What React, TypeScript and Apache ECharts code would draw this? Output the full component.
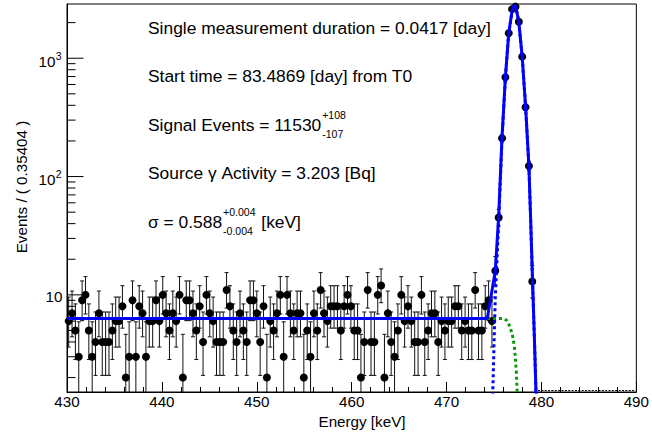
import React, { useEffect, useRef } from "react";
import * as echarts from "echarts";

// ---- axis ranges ----
const X_MIN = 430;
const X_MAX = 490;
const Y_MIN = 1.51;
const Y_MAX = 2874;
const BIN_WIDTH = 0.35404;
const N_BINS = 169;

// ---- data: counts per bin (bin 0 starts at 430 keV) ----
const bkgCounts = [
  6, 7, 5, 3, 9, 10, 5, 3, 4, 7,
  4, 4, 4, 5, 6, 6, 8, 2, 3, 9,
  3, 8, 7, 3, 6, 6, 9, 6, 10, 7,
  5, 7, 6, 10, 2, 9, 9, 7, 5, 8,
  4, 10, 7, 6, 4, 4, 4, 11, 8, 5,
  4, 7, 5, 4, 9, 9, 7, 4, 8, 2,
  6, 5, 7, 10, 3, 10, 7, 5, 7, 7,
  2, 5, 3, 7, 5, 11, 7, 6, 8, 8,
  8, 5, 8, 10, 8, 5, 5, 2, 4, 11,
  4, 4, 10, 12, 2, 7, 4, 3, 5, 10,
  6, 8, 6, 4, 4, 10, 4, 5, 7, 7,
  4, 6, 5, 6, 6, 8, 8, 5, 6, 5,
  5, 11, 5, 5, 8, 9, 6,
];
const peakCounts = [16, 45, 211, 691, 1626, 2600, 2730, 2037, 1032, 385, 123, 13];

// Poisson 68.3% interval for small counts
const poissonLo: Record<number, number> = {
  1: 0.173, 2: 0.708, 3: 1.367, 4: 2.086, 5: 2.84, 6: 3.62, 7: 4.419, 8: 5.232,
  9: 6.057, 10: 6.891, 11: 7.734, 12: 8.585, 13: 9.441, 16: 12.05, 45: 38.32,
};
const poissonHi: Record<number, number> = {
  1: 3.3, 2: 4.638, 3: 5.918, 4: 7.163, 5: 8.382, 6: 9.584, 7: 10.77, 8: 11.95,
  9: 13.11, 10: 14.27, 11: 15.42, 12: 16.56, 13: 17.7, 16: 21.08, 45: 52.75,
};

// ---- fit curves (energy keV, events) ----
const totalFitE = [430, 474.29, 475.14, 475.49, 475.84, 476.2, 476.55, 476.9, 477.1, 477.3, 477.61, 477.97, 478.33, 478.68, 478.86, 479.03, 479.25, 479.42, 479.55];
const totalFitV = [6.3, 6.3, 16, 46, 210, 690, 1620, 2500, 2780, 2720, 2040, 1030, 390, 122, 44, 16, 4.5, 1.55, 1.0];

const gaussE = [474.8, 474.9, 475.0, 475.14, 475.49, 475.84, 476.2, 476.55, 476.9, 477.1, 477.3, 477.61, 477.97, 478.33, 478.68, 478.86, 479.03, 479.25, 479.42, 479.55];
const gaussV = [1.0, 1.8, 3.8, 9.7, 40, 204, 684, 1615, 2496, 2776, 2718, 2039, 1030, 390, 122, 44, 16, 4.5, 1.55, 1.0];

const bkgFitE = [430, 476.03, 476.39, 476.73, 476.97, 477.15, 477.26, 477.36, 477.43, 477.5];
const bkgFitV = [6.3, 6.3, 6.05, 5.25, 4.45, 3.67, 2.83, 2.19, 1.58, 1.1];

// ---- tick values ----
const xTickInterval = 10;
const yMajorTicks = [10, 100, 1000];
const yMinorTicks = [2, 3, 4, 5, 6, 7, 8, 9, 20, 30, 40, 50, 60, 70, 80, 90, 200, 300, 400, 500, 600, 700, 800, 900, 2000];

// ---- annotation texts ----
const line1 = "Single measurement duration = 0.0417 [day]";
const line2 = "Start time = 83.4869 [day] from T0";
const line3Main = "Signal Events = 11530";
const line3Sup = "+108";
const line3Sub = "-107";
const line4 = "Source \u03b3 Activity = 3.203 [Bq]";
const line5Main = "\u03c3 = 0.588";
const line5Sup = "+0.004";
const line5Sub = "-0.004";
const line5Tail = " [keV]";
const xTitle = "Energy [keV]";
const yTitle = "Events / ( 0.35404 )";

const FAMILY = '"Liberation Sans", Arial, Helvetica, sans-serif';
const MAIN_SIZE = 17.4;
const SCRIPT_SIZE = 10.5;
const TICK_SIZE = 15.2;

function measure(s: string, size: number): number {
  const c = document.createElement("canvas").getContext("2d");
  if (!c) return s.length * size * 0.55;
  c.font = `${size}px ${FAMILY}`;
  return c.measureText(s).width;
}

function txt(text: string, x: number, y: number, size: number, extra: any = {}) {
  return {
    type: "text",
    x,
    y,
    silent: true,
    z: 100,
    style: {
      text,
      fill: "#000",
      font: `${size}px ${FAMILY}`,
      align: "left",
      verticalAlign: "middle",
      ...extra,
    },
  };
}

function bc(i: number) {
  return X_MIN + (i + 0.5) * BIN_WIDTH;
}

export default function App() {
  const ref = useRef<HTMLDivElement>(null);

  useEffect(() => {
    if (!ref.current) return;
    const chart = echarts.init(ref.current, undefined, { renderer: "svg" });

    const counts = [...bkgCounts, ...peakCounts];
    const points: number[][] = [];
    const errs: number[][] = [];
    counts.forEach((n, i) => {
      if (n <= 0) return;
      const e = bc(i);
      points.push([e, n]);
      let lo: number, hi: number;
      if (poissonLo[n] !== undefined) {
        lo = poissonLo[n];
        hi = poissonHi[n];
      } else {
        lo = n - Math.sqrt(n + 0.25) + 0.5;
        hi = n + Math.sqrt(n + 0.25) + 0.5;
      }
      errs.push([e, lo, hi]);
    });
    const zeroBins: number[][] = [];
    for (let i = counts.length; i < N_BINS; i++) zeroBins.push([bc(i)]);

    const yTickData = [
      ...yMajorTicks.map((v) => [X_MIN, v, 1]),
      ...yMinorTicks.map((v) => [X_MIN, v, 0]),
    ];

    // annotation layout
    const tx = 148;
    const ly = [27.5, 76.1, 124.7, 173.3, 221.9];
    const w3 = measure(line3Main, MAIN_SIZE);
    const w5 = measure(line5Main, MAIN_SIZE);
    const w5s = Math.max(measure(line5Sup, SCRIPT_SIZE), measure(line5Sub, SCRIPT_SIZE));
    const graphics: any[] = [
      txt(line1, tx, ly[0], MAIN_SIZE),
      txt(line2, tx, ly[1], MAIN_SIZE),
      txt(line3Main, tx, ly[2], MAIN_SIZE),
      txt(line3Sup, tx + w3 + 1, ly[2] - 9.5, SCRIPT_SIZE),
      txt(line3Sub, tx + w3 + 1, ly[2] + 9.5, SCRIPT_SIZE),
      txt(line4, tx, ly[3], MAIN_SIZE),
      txt(line5Main, tx, ly[4], MAIN_SIZE),
      txt(line5Sup, tx + w5 + 1, ly[4] - 9.5, SCRIPT_SIZE),
      txt(line5Sub, tx + w5 + 1, ly[4] + 9.5, SCRIPT_SIZE),
      txt(line5Tail, tx + w5 + 2 + w5s, ly[4], MAIN_SIZE),
      txt(xTitle, 362, 421.5, TICK_SIZE, { align: "center" }),
      {
        type: "text",
        x: 21,
        y: 187,
        rotation: Math.PI / 2,
        silent: true,
        z: 100,
        style: {
          text: yTitle,
          fill: "#000",
          font: `${TICK_SIZE}px ${FAMILY}`,
          align: "center",
          verticalAlign: "middle",
        },
      },
    ];

    const option: any = {
      animation: false,
      backgroundColor: "#fff",
      grid: {
        left: 67,
        right: 10,
        top: 4,
        bottom: 43,
        show: true,
        borderColor: "#000",
        borderWidth: 1,
        backgroundColor: "transparent",
      },
      xAxis: {
        type: "value",
        min: X_MIN,
        max: X_MAX,
        interval: xTickInterval,
        axisLine: { show: true, lineStyle: { color: "#000", width: 1 } },
        axisTick: { show: true, inside: true, length: 10, lineStyle: { color: "#000", width: 1 } },
        minorTick: { show: true, splitNumber: 5, length: 5, lineStyle: { color: "#000", width: 1 } },
        splitLine: { show: false },
        minorSplitLine: { show: false },
        axisLabel: {
          color: "#000",
          fontSize: TICK_SIZE,
          fontFamily: FAMILY,
          margin: 2,
          showMinLabel: true,
          showMaxLabel: true,
        },
      },
      yAxis: {
        type: "log",
        logBase: 10,
        min: Y_MIN,
        max: Y_MAX,
        axisLine: { show: true, lineStyle: { color: "#000", width: 1 } },
        axisTick: { show: false },
        axisLabel: { show: false },
        splitLine: { show: false },
        minorTick: { show: false },
      },
      graphic: graphics,
      series: [
        {
          type: "custom",
          name: "yticks",
          silent: true,
          z: 10,
          data: yTickData,
          encode: { x: 0, y: 1 },
          renderItem: (params: any, api: any) => {
            const v = api.value(1);
            const major = api.value(2) === 1;
            const p = api.coord([X_MIN, v]);
            const len = major ? 16.5 : 8.5;
            const children: any[] = [
              {
                type: "line",
                shape: { x1: p[0], y1: p[1], x2: p[0] + len, y2: p[1] },
                style: { stroke: "#000", lineWidth: 1 },
              },
            ];
            if (major) {
              const e = Math.round(Math.log10(v));
              if (e === 1) {
                children.push({
                  type: "text",
                  style: {
                    text: "10",
                    x: p[0] - 4.5,
                    y: p[1] + 1.5,
                    align: "right",
                    verticalAlign: "middle",
                    fill: "#000",
                    font: `${TICK_SIZE}px ${FAMILY}`,
                  },
                });
              } else {
                children.push({
                  type: "text",
                  style: {
                    text: "10",
                    x: p[0] - 11.5,
                    y: p[1] + 3,
                    align: "right",
                    verticalAlign: "middle",
                    fill: "#000",
                    font: `${TICK_SIZE}px ${FAMILY}`,
                  },
                });
                children.push({
                  type: "text",
                  style: {
                    text: String(e),
                    x: p[0] - 11.3,
                    y: p[1] - 2.5,
                    align: "left",
                    verticalAlign: "middle",
                    fill: "#000",
                    font: `${SCRIPT_SIZE}px ${FAMILY}`,
                  },
                });
              }
            }
            return { type: "group", children };
          },
        },
        {
          type: "custom",
          name: "errors",
          silent: true,
          z: 2,
          data: errs,
          encode: { x: 0, y: [1, 2] },
          renderItem: (params: any, api: any) => {
            const x = api.value(0);
            const lo = api.value(1);
            const hi = api.value(2);
            const top = api.coord([x, Math.min(hi, Y_MAX)]);
            const bot = api.coord([x, Math.max(lo, Y_MIN)]);
            const children: any[] = [
              {
                type: "line",
                shape: { x1: top[0], y1: top[1], x2: bot[0], y2: bot[1] },
                style: { stroke: "#111", lineWidth: 1 },
              },
            ];
            if (hi <= Y_MAX) {
              children.push({
                type: "line",
                shape: { x1: top[0] - 2, y1: top[1], x2: top[0] + 2, y2: top[1] },
                style: { stroke: "#111", lineWidth: 1 },
              });
            }
            if (lo >= Y_MIN) {
              children.push({
                type: "line",
                shape: { x1: bot[0] - 2, y1: bot[1], x2: bot[0] + 2, y2: bot[1] },
                style: { stroke: "#111", lineWidth: 1 },
              });
            }
            return { type: "group", children };
          },
        },
        {
          type: "custom",
          name: "zeroBins",
          silent: true,
          z: 2,
          data: zeroBins,
          encode: { x: 0 },
          renderItem: (params: any, api: any) => {
            const p = api.coord([api.value(0), Y_MIN]);
            return {
              type: "line",
              shape: { x1: p[0] - 1, y1: p[1] - 1.5, x2: p[0] + 1, y2: p[1] - 1.5 },
              style: { stroke: "#000", lineWidth: 1 },
            };
          },
        },
        {
          type: "scatter",
          name: "data",
          silent: true,
          z: 3,
          symbol: "circle",
          symbolSize: 8,
          itemStyle: { color: "#000", opacity: 1 },
          data: points,
        },
        {
          type: "line",
          name: "background",
          silent: true,
          z: 4,
          symbol: "none",
          lineStyle: { color: "#0b990b", width: 3, type: [3, 3] },
          data: bkgFitE.map((e, i) => [e, bkgFitV[i]]),
        },
        {
          type: "line",
          name: "signal",
          silent: true,
          z: 5,
          symbol: "none",
          lineStyle: { color: "#0000ff", width: 3, type: [3, 3] },
          data: gaussE.map((e, i) => [e, gaussV[i]]),
        },
        {
          type: "line",
          name: "total",
          silent: true,
          z: 6,
          symbol: "none",
          lineStyle: { color: "#0000ff", width: 3 },
          data: totalFitE.map((e, i) => [e, totalFitV[i]]),
        },
      ],
    };

    chart.setOption(option);
    return () => chart.dispose();
  }, []);

  return (
    <div
      ref={ref}
      style={{ position: "fixed", left: 0, top: 0, width: 652, height: 435, background: "#fff" }}
    />
  );
}
